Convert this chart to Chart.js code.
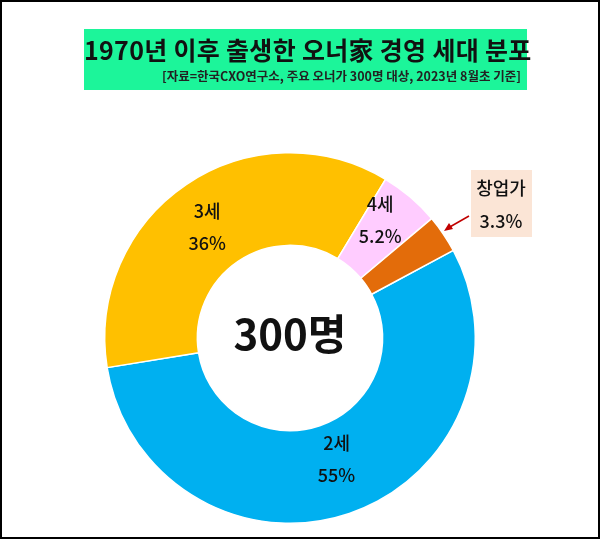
<!DOCTYPE html>
<html>
<head>
<meta charset="utf-8">
<script src="https://cdn.jsdelivr.net/npm/chart.js@4"></script>
<style>
  body { margin: 0; background: #fff; font-family: "Noto Sans CJK KR", sans-serif; }
  #wrap { position: relative; width: 600px; height: 539px; box-sizing: border-box; border: 2px solid #000; }
  #head { position: absolute; left: 82px; top: 27px; width: 443px; height: 61px; background: #1cf59a; }
  #title { position: absolute; left: 0; right: 0; top: 2px; text-align: center; font-size: 25px; font-weight: bold; color: #111; white-space: nowrap; letter-spacing: 0.3px; }
  #sub { position: absolute; right: 6px; top: 37px; font-size: 12.5px; font-weight: bold; color: #222; white-space: nowrap; }
  canvas { position: absolute; left: 0; top: 0; }
</style>
</head>
<body>
<div id="wrap">
  <canvas id="c" width="600" height="539"></canvas>
  <div id="head">
    <div id="title">1970년 이후 출생한 오너家 경영 세대 분포</div>
    <div id="sub">[자료=한국CXO연구소, 주요 오너가 300명 대상, 2023년 8월초 기준]</div>
  </div>
</div>
<script>
const labels = ["2세", "3세", "4세", "창업가"];
const values = [55, 36, 5.2, 3.3];
const valueText = ["55%", "36%", "5.2%", "3.3%"];
const colors = ["#00b0f0", "#ffc000", "#ffccff", "#e36c0a"];
const centerText = "300명";

const labelPlugin = {
  id: "labels",
  afterDraw(chart) {
    const ctx = chart.ctx;
    const arcs = chart.getDatasetMeta(0).data;
    ctx.save();
    ctx.fillStyle = "#111";
    ctx.textAlign = "center";
    ctx.textBaseline = "middle";
    ctx.font = "500 18px 'Noto Sans CJK KR'";
    // inner labels for the first three slices
    const offs = [[2, -10], [-5, 4], [0, -12]];
    for (let i = 0; i < 3; i++) {
      const p = arcs[i].tooltipPosition();
      const x = p.x + offs[i][0], y = p.y + offs[i][1];
      ctx.fillText(labels[i], x, y - 16);
      ctx.fillText(valueText[i], x, y + 16);
    }
    // center text
    ctx.font = "bold 42px 'Noto Sans CJK KR'";
    ctx.fillText(centerText, chart.chartArea.left + chart.chartArea.width / 2, 332);
    // callout for the smallest slice
    ctx.fillStyle = "#fbe5d6";
    ctx.fillRect(469, 168, 61, 67);
    ctx.fillStyle = "#111";
    ctx.font = "500 18px 'Noto Sans CJK KR'";
    ctx.fillText(labels[3], 499, 186);
    ctx.fillText(valueText[3], 499, 219);
    ctx.strokeStyle = "#c00000";
    ctx.fillStyle = "#c00000";
    ctx.lineWidth = 1.5;
    ctx.beginPath();
    ctx.moveTo(467, 214);
    ctx.lineTo(446, 226);
    ctx.stroke();
    ctx.beginPath();
    ctx.moveTo(442, 229);
    ctx.lineTo(451, 227);
    ctx.lineTo(447, 221);
    ctx.closePath();
    ctx.fill();
    ctx.restore();
  }
};

new Chart(document.getElementById("c"), {
  type: "doughnut",
  data: {
    labels: labels,
    datasets: [{
      data: values,
      backgroundColor: colors,
      borderColor: "#fff",
      borderWidth: 1.5
    }]
  },
  options: {
    responsive: false,
    animation: false,
    cutout: "50%",
    rotation: 61.8,
    layout: { padding: { top: 150, bottom: 17, left: 102, right: 126 } },
    plugins: { legend: { display: false }, tooltip: { enabled: false } }
  },
  plugins: [labelPlugin]
});
</script>
</body>
</html>
